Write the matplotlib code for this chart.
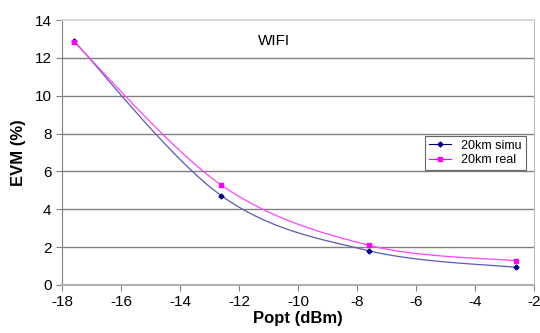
import numpy as np
import matplotlib
matplotlib.use('Agg')
import matplotlib.pyplot as plt

plt.rcParams['font.family'] = ['Liberation Sans', 'DejaVu Sans']
plt.rcParams['axes.unicode_minus'] = False

popt = [-17.6, -12.6, -7.6, -2.6]
evm_simu = [12.9, 4.72, 1.81, 0.93]
evm_real = [12.85, 5.28, 2.1, 1.28]


def smooth(xs, ys, n=40):
    # excel-like smoothed line: cubic bezier with catmull-rom control points
    xs = np.asarray(xs, float)
    ys = np.asarray(ys, float)
    px = np.concatenate([[xs[0]], xs, [xs[-1]]])
    py = np.concatenate([[ys[0]], ys, [ys[-1]]])
    outx, outy = [], []
    t = np.linspace(0, 1, n)
    for i in range(1, len(px) - 2):
        p0 = np.array([px[i], py[i]])
        p3 = np.array([px[i + 1], py[i + 1]])
        c1 = p0 + (np.array([px[i + 1], py[i + 1]]) - np.array([px[i - 1], py[i - 1]])) / 6
        c2 = p3 - (np.array([px[i + 2], py[i + 2]]) - np.array([px[i], py[i]])) / 6
        b = ((1 - t) ** 3)[:, None] * p0 + (3 * (1 - t) ** 2 * t)[:, None] * c1 \
            + (3 * (1 - t) * t ** 2)[:, None] * c2 + (t ** 3)[:, None] * p3
        outx.extend(b[:, 0])
        outy.extend(b[:, 1])
    return outx, outy


fig = plt.figure(figsize=(5.4, 3.33), dpi=100)
ax = fig.add_axes([62 / 540, 48 / 333, 472 / 540, 265 / 333])

sx, sy = smooth(popt, evm_simu)
rx, ry = smooth(popt, evm_real)
ax.plot(sx, sy, color='#5a5ab4', lw=0.9, zorder=3)
ax.plot(rx, ry, color='#ff44ff', lw=0.9, zorder=3)
ax.plot(popt, evm_simu, ls='none', marker='D', ms=2.5, color='#000080', zorder=4)
ax.plot(popt, evm_real, ls='none', marker='s', ms=3.5, color='#ff00ff', zorder=4)

# legend handles
ax.plot([], [], color='#000080', lw=0.8, marker='D', ms=2.5, label='20km simu')
ax.plot([], [], color='#ff00ff', lw=0.8, marker='s', ms=3.5, label='20km real')

ax.set_xlim(-18, -2)
ax.set_ylim(0, 14)
ax.set_xticks(np.arange(-18, -1, 2))
ax.set_yticks(np.arange(0, 15, 2))
for y in range(2, 14, 2):
    ax.axhline(y, color='#808080', lw=1, zorder=1)

ax.spines['top'].set_color('#d8d8d8')
ax.spines['top'].set_linewidth(1.5)
ax.spines['right'].set_color('#bbbbbb')
ax.spines['bottom'].set_color('#b0b0b0')
ax.spines['bottom'].set_linewidth(1.5)
ax.spines['left'].set_color('#808080')
ax.tick_params(axis='both', labelsize=11, direction='out', length=4, color='#808080')

ax.set_xlabel('Popt (dBm)', fontsize=12, fontweight='bold', labelpad=1)
ax.set_ylabel('EVM (%)', fontsize=12, fontweight='bold', labelpad=6)

ax.text(-10.8, 12.9, 'WIFI', fontsize=11, ha='center', va='center')

leg = ax.legend(loc='upper left', bbox_to_anchor=(363 / 472, 1 - 116 / 265), fontsize=9,
                frameon=True, fancybox=False, edgecolor='#404040', borderpad=0.3,
                handlelength=1.8, labelspacing=0.2, borderaxespad=0)
leg.get_frame().set_linewidth(0.8)

fig.savefig('out.png', dpi=100)
